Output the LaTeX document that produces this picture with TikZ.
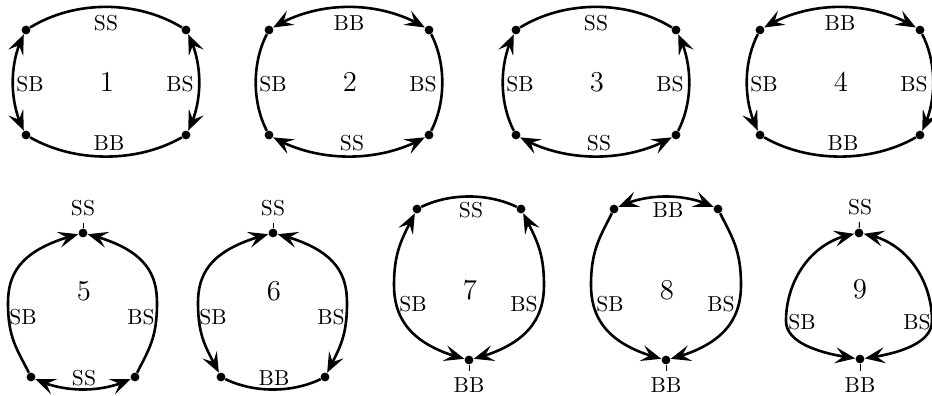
\documentclass[tikz,border=0pt]{standalone}
\usetikzlibrary{arrows.meta,bending}

\begin{document}
\begin{tikzpicture}[x=0.5pt,y=-0.5pt,
    >={Stealth[length=10pt,width=8pt,inset=4pt]},
    edge/.style={line width=1.3pt},
    tick/.style={line width=0.5pt},
    dot/.style={circle,fill=black,inner sep=0pt,minimum size=4.4pt},
    lbl/.style={font=\fontsize{10.8}{13}\selectfont},
    num/.style={font=\fontsize{14.4}{17}\selectfont}]

    \useasboundingbox (0,0) rectangle (932,396);

    % Diagram 1
    \begin{scope}[shift={(26,30)}]
        \node[dot] (d1a) at (0,0) {};
        \node[dot] (d1b) at (160,0) {};
        \node[dot] (d1c) at (0,105) {};
        \node[dot] (d1d) at (160,105) {};
        \draw[edge] (d1a) .. controls +(49,-30) and +(-49,-30) .. (d1b);
        \draw[edge] (d1c) .. controls +(49,28) and +(-49,28) .. (d1d);
        \draw[edge,<->] (d1a) .. controls +(-17,33) and +(-17,-33) .. (d1c);
        \draw[edge,<->] (d1b) .. controls +(17,33) and +(17,-33) .. (d1d);
        \node[lbl] (l1a) at (80,-7) {SS};
        \node[lbl] (l1b) at (83,113) {BB};
        \node[lbl] (l1c) at (4,54) {SB};
        \node[lbl] (l1d) at (154,54) {BS};
        \node[num] (n1) at (81,52) {1};
    \end{scope}

    % Diagram 2
    \begin{scope}[shift={(269,30)}]
        \node[dot] (d2a) at (0,0) {};
        \node[dot] (d2b) at (160,0) {};
        \node[dot] (d2c) at (0,105) {};
        \node[dot] (d2d) at (160,105) {};
        \draw[edge,<->] (d2a) .. controls +(49,-30) and +(-49,-30) .. (d2b);
        \draw[edge,<->] (d2c) .. controls +(49,28) and +(-49,28) .. (d2d);
        \draw[edge] (d2a) .. controls +(-17,33) and +(-17,-33) .. (d2c);
        \draw[edge] (d2b) .. controls +(17,33) and +(17,-33) .. (d2d);
        \node[lbl] (l2a) at (80,-7) {BB};
        \node[lbl] (l2b) at (83,113) {SS};
        \node[lbl] (l2c) at (4,54) {SB};
        \node[lbl] (l2d) at (154,54) {BS};
        \node[num] (n2) at (81,52) {2};
    \end{scope}

    % Diagram 3
    \begin{scope}[shift={(516,30)}]
        \node[dot] (d3a) at (0,0) {};
        \node[dot] (d3b) at (160,0) {};
        \node[dot] (d3c) at (0,105) {};
        \node[dot] (d3d) at (160,105) {};
        \draw[edge] (d3a) .. controls +(49,-30) and +(-49,-30) .. (d3b);
        \draw[edge,<->] (d3c) .. controls +(49,28) and +(-49,28) .. (d3d);
        \draw[edge,<-] (d3a) .. controls +(-17,33) and +(-17,-33) .. (d3c);
        \draw[edge,<-] (d3b) .. controls +(17,33) and +(17,-33) .. (d3d);
        \node[lbl] (l3a) at (80,-7) {SS};
        \node[lbl] (l3b) at (83,113) {SS};
        \node[lbl] (l3c) at (4,54) {SB};
        \node[lbl] (l3d) at (154,54) {BS};
        \node[num] (n3) at (81,52) {3};
    \end{scope}

    % Diagram 4
    \begin{scope}[shift={(760,30)}]
        \node[dot] (d4a) at (0,0) {};
        \node[dot] (d4b) at (160,0) {};
        \node[dot] (d4c) at (0,105) {};
        \node[dot] (d4d) at (160,105) {};
        \draw[edge,<->] (d4a) .. controls +(49,-30) and +(-49,-30) .. (d4b);
        \draw[edge] (d4c) .. controls +(49,28) and +(-49,28) .. (d4d);
        \draw[edge,->] (d4a) .. controls +(-17,33) and +(-17,-33) .. (d4c);
        \draw[edge,->] (d4b) .. controls +(17,33) and +(17,-33) .. (d4d);
        \node[lbl] (l4a) at (80,-7) {BB};
        \node[lbl] (l4b) at (83,113) {BB};
        \node[lbl] (l4c) at (4,54) {SB};
        \node[lbl] (l4d) at (154,54) {BS};
        \node[num] (n4) at (81,52) {4};
    \end{scope}

    % Diagram 5
    \begin{scope}[shift={(83,233)}]
        \node[dot] (d5a) at (0,0) {};
        \node[dot] (d5b) at (-52,144) {};
        \node[dot] (d5c) at (52,144) {};
        \draw[edge,<-] (d5a) .. controls +(-62,16) and +(0,-30) .. (-75,70)
            .. controls +(0,35) and +(-14,-28) .. (d5b);
        \draw[edge,<-] (d5a) .. controls +(62,16) and +(0,-30) .. (74,70)
            .. controls +(0,35) and +(14,-28) .. (d5c);
        \draw[edge,<->] (d5b) .. controls +(33,16) and +(-33,16) .. (d5c);
        \node[lbl] (l5a) at (0,-25) {SS};
        \node[lbl] (l5b) at (1,145) {SS};
        \node[lbl] (l5c) at (-60,84) {SB};
        \node[lbl] (l5d) at (58,84) {BS};
        \node[num] (n5) at (1,58) {5};
        \draw[tick] (d5a) -- (l5a);
    \end{scope}

    % Diagram 6
    \begin{scope}[shift={(273,233)}]
        \node[dot] (d6a) at (0,0) {};
        \node[dot] (d6b) at (-52,144) {};
        \node[dot] (d6c) at (52,144) {};
        \draw[edge,<->] (d6a) .. controls +(-62,16) and +(0,-30) .. (-75,70)
            .. controls +(0,35) and +(-14,-28) .. (d6b);
        \draw[edge,<->] (d6a) .. controls +(62,16) and +(0,-30) .. (74,70)
            .. controls +(0,35) and +(14,-28) .. (d6c);
        \draw[edge] (d6b) .. controls +(33,16) and +(-33,16) .. (d6c);
        \node[lbl] (l6a) at (0,-25) {SS};
        \node[lbl] (l6b) at (1,145) {BB};
        \node[lbl] (l6c) at (-60,84) {SB};
        \node[lbl] (l6d) at (58,84) {BS};
        \node[num] (n6) at (1,58) {6};
        \draw[tick] (d6a) -- (l6a);
    \end{scope}

    % Diagram 7
    \begin{scope}[shift={(469,360)}]
        \node[dot] (d7a) at (-52,-151) {};
        \node[dot] (d7b) at (52,-151) {};
        \node[dot] (d7c) at (0,0) {};
        \draw[edge] (d7a) .. controls +(33,-16) and +(-33,-16) .. (d7b);
        \draw[edge,<->] (d7a) .. controls +(-14,28) and +(0,-35) .. (-75,-75)
            .. controls +(0,30) and +(-62,-16) .. (d7c);
        \draw[edge,<->] (d7b) .. controls +(14,28) and +(0,-35) .. (75,-75)
            .. controls +(0,30) and +(62,-16) .. (d7c);
        \node[lbl] (l7a) at (2,-150) {SS};
        \node[lbl] (l7b) at (0,25) {BB};
        \node[lbl] (l7c) at (-56,-56) {SB};
        \node[lbl] (l7d) at (55,-56) {BS};
        \node[num] (n7) at (1,-70) {7};
        \draw[tick] (d7c) -- (l7b);
    \end{scope}

    % Diagram 8
    \begin{scope}[shift={(666,360)}]
        \node[dot] (d8a) at (-52,-151) {};
        \node[dot] (d8b) at (52,-151) {};
        \node[dot] (d8c) at (0,0) {};
        \draw[edge,<->] (d8a) .. controls +(33,-16) and +(-33,-16) .. (d8b);
        \draw[edge,->] (d8a) .. controls +(-14,28) and +(0,-35) .. (-75,-75)
            .. controls +(0,30) and +(-62,-16) .. (d8c);
        \draw[edge,->] (d8b) .. controls +(14,28) and +(0,-35) .. (75,-75)
            .. controls +(0,30) and +(62,-16) .. (d8c);
        \node[lbl] (l8a) at (2,-150) {BB};
        \node[lbl] (l8b) at (0,25) {BB};
        \node[lbl] (l8c) at (-56,-56) {SB};
        \node[lbl] (l8d) at (55,-56) {BS};
        \node[num] (n8) at (1,-70) {8};
        \draw[tick] (d8c) -- (l8b);
    \end{scope}

    % Diagram 9
    \begin{scope}[shift={(859,233)}]
        \node[dot] (d9a) at (0,0) {};
        \node[dot] (d9b) at (1,126) {};
        \draw[edge,<->] (d9a) .. controls +(-48,8) and +(0,-40) .. (-73,88)
            .. controls +(0,25) and +(-30,-4) .. (d9b);
        \draw[edge,<->] (d9a) .. controls +(48,8) and +(0,-40) .. (73,88)
            .. controls +(0,25) and +(30,-4) .. (d9b);
        \node[lbl] (l9a) at (1,-26) {SS};
        \node[lbl] (l9b) at (1,152) {BB};
        \node[lbl] (l9c) at (-57,89) {SB};
        \node[lbl] (l9d) at (58,89) {BS};
        \node[num] (n9) at (1,56) {9};
        \draw[tick] (d9a) -- (l9a);
        \draw[tick] (d9b) -- (l9b);
    \end{scope}

\end{tikzpicture}
\end{document}
